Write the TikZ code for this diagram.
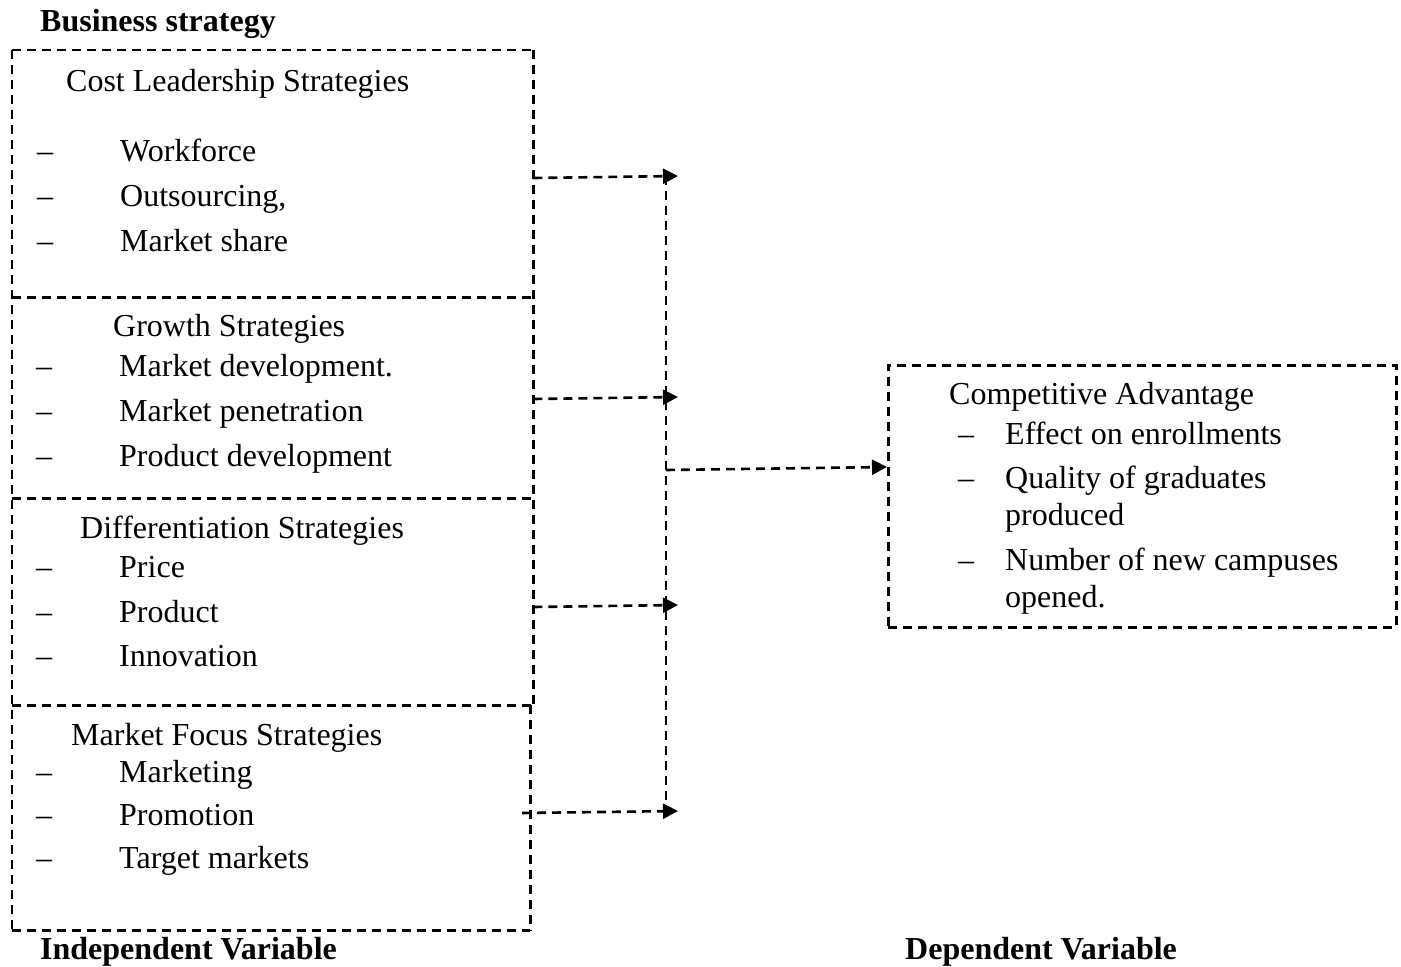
\documentclass[tikz,border=0pt]{standalone}
\usepackage{fontspec}
\setmainfont{Liberation Serif}
\usetikzlibrary{arrows.meta}
\begin{document}
\begin{tikzpicture}[x=1pt,y=-1pt,
  dline/.style={line width=2.6pt, dash pattern=on 9pt off 6pt},
  box/.style={inner sep=0, anchor=north west},
  txt/.style={anchor=base west, inner sep=0, font={\fontsize{32}{37}\selectfont}},
  hd/.style={anchor=base west, inner sep=0, font={\fontsize{32}{37}\selectfont\bfseries}},
  arr/.style={dline, -{Triangle[length=15pt,width=15pt]}}]
\useasboundingbox (0,0) rectangle (1401,967);

% headings
\node[hd] (bs) at (40,31) {Business strategy};
\node[hd] (iv) at (40,959) {Independent Variable};
\node[hd] (dv) at (905,959) {Dependent Variable};

% left boxes (shapes only; outlines drawn below so shared edges stay dashed)
\node[box, minimum width=521pt, minimum height=247pt] (b1) at (12,50) {};
\node[box, minimum width=521pt, minimum height=201pt] (b2) at (12,297) {};
\node[box, minimum width=521pt, minimum height=207pt] (b3) at (12,498) {};
\node[box, minimum width=518pt, minimum height=225pt] (b4) at (12,705) {};

\draw[dline] (b1.north west) -- (b1.north east);
\draw[dline] (b1.north west) -- (b4.south west);
\draw[dline] (b1.north east) -- (b3.south east);
\draw[dline] (b4.north east) -- (b4.south east);
\draw[dline] (b4.south west) -- (b4.south east);
\draw[dline] (b1.south west) -- (b1.south east);
\draw[dline] (b2.south west) -- (b2.south east);
\draw[dline] (b3.south west) -- (b3.south east);

% right box
\node[box, draw, dline, minimum width=508pt, minimum height=262pt] (ca) at (887,364) {};

% box 1 text
\node[txt] (t1) at (66,91) {Cost Leadership Strategies};
\node[txt] (d11) at (37,161) {–};
\node[txt] (i11) at (120,161) {Workforce};
\node[txt] (d12) at (37,206) {–};
\node[txt] (i12) at (120,206) {Outsourcing,};
\node[txt] (d13) at (37,251) {–};
\node[txt] (i13) at (120,251) {Market share};

% box 2 text
\node[txt] (t2) at (113,336) {Growth Strategies};
\node[txt] (d21) at (36,376) {–};
\node[txt] (i21) at (119,376) {Market development.};
\node[txt] (d22) at (36,421) {–};
\node[txt] (i22) at (119,421) {Market penetration};
\node[txt] (d23) at (36,466) {–};
\node[txt] (i23) at (119,466) {Product development};

% box 3 text
\node[txt] (t3) at (80,538) {Differentiation Strategies};
\node[txt] (d31) at (36,577) {–};
\node[txt] (i31) at (119,577) {Price};
\node[txt] (d32) at (36,622) {–};
\node[txt] (i32) at (119,622) {Product};
\node[txt] (d33) at (36,666) {–};
\node[txt] (i33) at (119,666) {Innovation};

% box 4 text
\node[txt] (t4) at (71,745) {Market Focus Strategies};
\node[txt] (d41) at (36,782) {–};
\node[txt] (i41) at (119,782) {Marketing};
\node[txt] (d42) at (36,825) {–};
\node[txt] (i42) at (119,825) {Promotion};
\node[txt] (d43) at (36,868) {–};
\node[txt] (i43) at (119,868) {Target markets};

% competitive advantage text
\node[txt] (tc) at (949,404) {Competitive Advantage};
\node[txt] (dc1) at (958,444) {–};
\node[txt] (ic1) at (1005,444) {Effect on enrollments};
\node[txt] (dc2) at (958,488) {–};
\node[txt] (ic2) at (1005,488) {Quality of graduates};
\node[txt] (ic2b) at (1005,525) {produced};
\node[txt] (dc3) at (958,570) {–};
\node[txt] (ic3) at (1005,570) {Number of new campuses};
\node[txt] (ic3b) at (1005,607) {opened.};

% connectors
\coordinate (j1) at (678,176);
\coordinate (j2) at (678,397);
\coordinate (j3) at (678,605);
\coordinate (j4) at (678,811);
\coordinate (vt) at (666,176);
\coordinate (vb) at (666,811);
\coordinate (vm) at (666,470);
\coordinate (s4) at (522,813);

\draw[dline] (vt) -- (vb);
\draw[arr] (b1.east |- 0,178) -- (j1);
\draw[arr] (b2.east |- 0,399) -- (j2);
\draw[arr] (b3.east |- 0,607) -- (j3);
\draw[arr] (s4) -- (j4);
\draw[arr] (vm) -- (ca.west |- 0,467);
\end{tikzpicture}
\end{document}
